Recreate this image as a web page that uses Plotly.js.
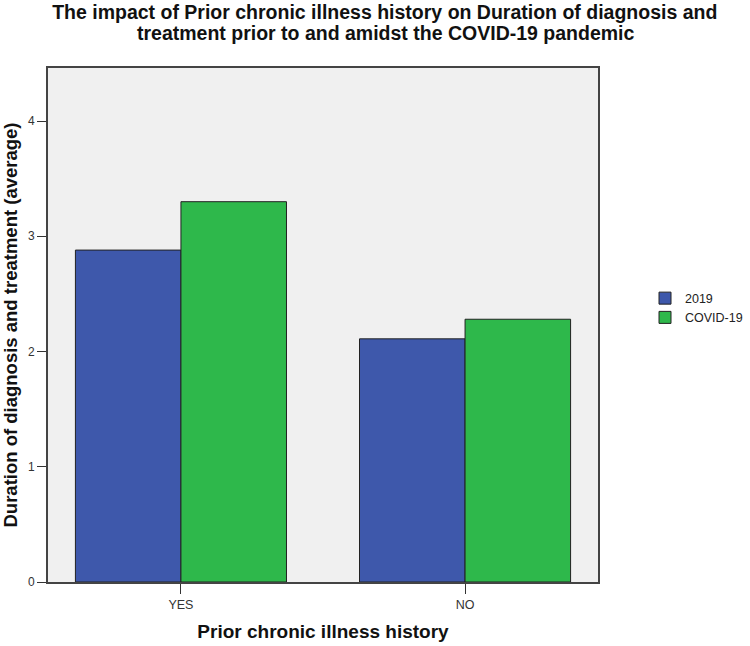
<!DOCTYPE html>
<html>
<head>
<meta charset="utf-8">
<script src="https://cdn.plot.ly/plotly-3.0.1.min.js"></script>
<style>
  body { margin: 0; background: #ffffff; }
  #graph { width: 750px; height: 646px; }
</style>
</head>
<body>
<div id="graph"></div>
<script>
// categories on the x axis and the mean duration for each period
var categories = ["YES", "NO"];
var values2019 = [2.88, 2.11];
var valuesCovid = [3.30, 2.28];
var seriesNames = ["2019", "COVID-19"];
var yTicks = [0, 1, 2, 3, 4];
var titleLines = [
    "The impact of Prior chronic illness history on Duration of diagnosis and",
    "treatment prior to and amidst the COVID-19 pandemic"
];

drawGraph();

function drawGraph()
{
    var barLine = { color: "#222222", width: 1 };

    var trace2019 = {
        x: categories,
        y: values2019,
        type: "bar",
        name: seriesNames[0],
        marker: { color: "#3e58ab", line: barLine },
        hoverinfo: "none"
    };
    var traceCovid = {
        x: categories,
        y: valuesCovid,
        type: "bar",
        name: seriesNames[1],
        marker: { color: "#2eb84b", line: barLine },
        hoverinfo: "none"
    };

    var data = [trace2019, traceCovid];

    var titleFont = { family: "Liberation Sans, Arial, sans-serif", size: 19.5, color: "#111111" };

    var layout = {
        width: 750,
        height: 646,
        font: { family: "Liberation Sans, Arial, sans-serif", color: "#222222", size: 12 },
        paper_bgcolor: "#ffffff",
        plot_bgcolor: "#f0f0f0",
        margin: { l: 48, r: 152, t: 68, b: 64, autoexpand: false },
        // first title line is the real title, the second sits just under it
        title: {
            text: "<b>" + titleLines[0] + "</b>",
            font: titleFont,
            xref: "container",
            x: 0.513,
            xanchor: "center",
            yref: "container",
            y: 1 - 12 / 646,
            yanchor: "middle"
        },
        annotations: [{
            text: "<b>" + titleLines[1] + "</b>",
            font: titleFont,
            xref: "paper",
            yref: "paper",
            x: 0.613,
            y: 1 + (68 - 33) / 514,
            xanchor: "center",
            yanchor: "middle",
            showarrow: false
        }],
        barmode: "group",
        bargap: 0.257,
        bargroupgap: 0,
        xaxis: {
            type: "category",
            range: [-0.468, 1.468],
            showline: true,
            linecolor: "#444444",
            linewidth: 2,
            mirror: true,
            ticks: "outside",
            ticklen: 10,
            tickcolor: "#333333",
            tickfont: { size: 12.5, color: "#333333" },
            title: {
                text: "<b>Prior chronic illness history</b>",
                font: { size: 19, color: "#111111" },
                standoff: 14
            },
            fixedrange: true
        },
        yaxis: {
            range: [0, 4.46],
            tickvals: yTicks,
            showgrid: false,
            zeroline: false,
            showline: true,
            linecolor: "#444444",
            linewidth: 2,
            mirror: true,
            ticks: "outside",
            ticklen: 9,
            tickcolor: "#333333",
            tickfont: { size: 12, color: "#333333" },
            title: {
                text: "<b>Duration of diagnosis and treatment (average)</b>",
                font: { size: 18.5, color: "#111111" },
                standoff: 6
            },
            fixedrange: true
        },
        showlegend: true,
        legend: {
            xref: "container",
            yref: "container",
            x: 645 / 750,
            xanchor: "left",
            y: 1 - 308 / 646,
            yanchor: "middle",
            font: { size: 12.5, color: "#222222" },
            bgcolor: "rgba(0,0,0,0)",
            tracegroupgap: 0,
            itemwidth: 30,
            traceorder: "normal"
        }
    };

    Plotly.newPlot("graph", data, layout, { displayModeBar: false, staticPlot: true });
}
</script>
</body>
</html>
